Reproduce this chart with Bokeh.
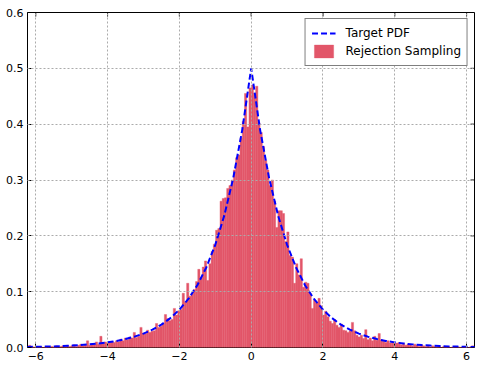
import numpy as np
from bokeh.plotting import figure
from bokeh.models import Range1d, FixedTicker, Legend, LegendItem, ColumnDataSource
from bokeh.embed import file_html
from bokeh.resources import INLINE

# ---- data ----
bin_start = -6.2
bin_width = 0.062
# histogram density heights, ascending x (200 bins from -6.2 to 6.2)
hist_heights = [
    0.004, 0.002, 0.001, 0.000, 0.001, 0.002, 0.000, 0.001, 0.002, 0.000,
    0.002, 0.001, 0.003, 0.000, 0.002, 0.003, 0.001, 0.004, 0.002, 0.003,
    0.005, 0.002, 0.004, 0.006, 0.003, 0.005, 0.012, 0.004, 0.007, 0.005,
    0.010, 0.006, 0.020, 0.007, 0.010, 0.008, 0.009, 0.011, 0.009, 0.012,
    0.010, 0.015, 0.012, 0.017, 0.014, 0.019, 0.017, 0.027, 0.018, 0.020,
    0.036, 0.026, 0.024, 0.031, 0.027, 0.029, 0.030, 0.043, 0.036, 0.038,
    0.042, 0.059, 0.052, 0.048, 0.050, 0.070, 0.058, 0.066, 0.068, 0.097,
    0.082, 0.115, 0.092, 0.097, 0.104, 0.118, 0.140, 0.125, 0.144, 0.155,
    0.120, 0.150, 0.172, 0.185, 0.210, 0.213, 0.262, 0.267, 0.268, 0.285,
    0.290, 0.300, 0.318, 0.340, 0.345, 0.375, 0.405, 0.455, 0.395, 0.465,
    # right half
    0.470, 0.455, 0.468, 0.402, 0.385, 0.360, 0.335, 0.318, 0.290, 0.300,
    0.262, 0.215, 0.245, 0.245, 0.240, 0.190, 0.207, 0.165, 0.162, 0.115,
    0.150, 0.130, 0.159, 0.108, 0.117, 0.115, 0.097, 0.070, 0.085, 0.080,
    0.088, 0.075, 0.058, 0.065, 0.055, 0.047, 0.043, 0.050, 0.040, 0.036,
    0.042, 0.031, 0.030, 0.027, 0.030, 0.045, 0.030, 0.022, 0.019, 0.022,
    0.016, 0.032, 0.014, 0.017, 0.012, 0.020, 0.013, 0.025, 0.014, 0.011,
    0.009, 0.012, 0.008, 0.010, 0.007, 0.008, 0.009, 0.005, 0.007, 0.004,
    0.006, 0.005, 0.003, 0.006, 0.004, 0.002, 0.005, 0.003, 0.002, 0.004,
    0.001, 0.003, 0.002, 0.001, 0.003, 0.000, 0.002, 0.001, 0.002, 0.000,
    0.001, 0.002, 0.000, 0.001, 0.000, 0.002, 0.001, 0.000, 0.001, 0.003,
]

pdf_x = [-6.25, -6.0, -5.75, -5.5, -5.25, -5.0, -4.75, -4.5, -4.25, -4.0,
         -3.75, -3.5, -3.25, -3.0, -2.75, -2.5, -2.25, -2.0, -1.75, -1.5,
         -1.25, -1.0, -0.75, -0.5, -0.25, 0.0, 0.25, 0.5, 0.75, 1.0,
         1.25, 1.5, 1.75, 2.0, 2.25, 2.5, 2.75, 3.0, 3.25, 3.5,
         3.75, 4.0, 4.25, 4.5, 4.75, 5.0, 5.25, 5.5, 5.75, 6.0, 6.25]
pdf_y = [0.0010, 0.0012, 0.0016, 0.0020, 0.0026, 0.0034, 0.0043, 0.0056, 0.0071, 0.0092,
         0.0118, 0.0151, 0.0194, 0.0249, 0.0320, 0.0410, 0.0527, 0.0677, 0.0869, 0.1116,
         0.1433, 0.1839, 0.2362, 0.3033, 0.3894, 0.5000, 0.3894, 0.3033, 0.2362, 0.1839,
         0.1433, 0.1116, 0.0869, 0.0677, 0.0527, 0.0410, 0.0320, 0.0249, 0.0194, 0.0151,
         0.0118, 0.0092, 0.0071, 0.0056, 0.0043, 0.0034, 0.0026, 0.0020, 0.0016, 0.0012, 0.0010]

x_ticks = [-6, -4, -2, 0, 2, 4, 6]
x_tick_labels = ["\u22126", "\u22124", "\u22122", "0", "2", "4", "6"]
y_ticks = [0.0, 0.1, 0.2, 0.3, 0.4, 0.5, 0.6]
y_tick_labels = ["0.0", "0.1", "0.2", "0.3", "0.4", "0.5", "0.6"]

X_MIN, X_MAX = -6.23, 6.22
Y_MIN, Y_MAX = 0.0, 0.6

# ---- figure ----
FONT = "DejaVu Sans"
BAR = "#E25669"

edges = bin_start + bin_width * np.arange(len(hist_heights) + 1)
src = ColumnDataSource(dict(left=edges[:-1], right=edges[1:], top=hist_heights,
                            bottom=[0.0] * len(hist_heights)))

p = figure(width=480, height=368, output_backend="svg", toolbar_location=None,
           x_range=Range1d(X_MIN, X_MAX), y_range=Range1d(Y_MIN, Y_MAX),
           min_border_left=27, min_border_right=6, min_border_top=12, min_border_bottom=21)
p.background_fill_color = "white"
p.border_fill_color = "white"
p.outline_line_color = "black"
p.outline_line_width = 1

bars = p.quad(left="left", right="right", top="top", bottom="bottom", source=src,
              fill_color=BAR, line_color=BAR, line_width=0.4)
pdf = p.line(pdf_x, pdf_y, line_color="#0000FF", line_width=2, line_dash="6 3")

for ax, ticks, labels in ((p.xaxis[0], x_ticks, x_tick_labels), (p.yaxis[0], y_ticks, y_tick_labels)):
    ax.ticker = FixedTicker(ticks=ticks)
    ax.major_label_overrides = {t: l for t, l in zip(ticks, labels)}
    ax.major_label_text_font = FONT
    ax.major_label_text_font_size = "11px"
    ax.major_label_text_color = "black"
    ax.major_tick_in = 4
    ax.major_tick_out = 0
    ax.minor_tick_line_color = None
    ax.axis_line_color = None
    ax.major_tick_line_color = "black"
    ax.major_label_standoff = 4

# inward tick marks on the top and right edges (matplotlib classic style)
p.ray(x=x_ticks, y=[Y_MAX] * len(x_ticks), length=4, length_units="screen",
      angle=-np.pi / 2, line_color="black", line_width=1)
p.ray(x=[X_MAX] * len(y_ticks), y=y_ticks, length=4, length_units="screen",
      angle=np.pi, line_color="black", line_width=1)

p.xgrid.ticker = FixedTicker(ticks=x_ticks)
p.ygrid.ticker = FixedTicker(ticks=y_ticks)
for g in (p.xgrid[0], p.ygrid[0]):
    g.grid_line_color = "#ababab"
    g.grid_line_dash = "2 2"
    g.grid_line_width = 1
    g.level = "guide"

legend = Legend(items=[LegendItem(label="Target PDF", renderers=[pdf]),
                       LegendItem(label="Rejection Sampling", renderers=[bars])],
                location="top_right")
legend.margin = 6
legend.padding = 6
legend.spacing = 2
legend.glyph_width = 24
legend.glyph_height = 16
legend.label_height = 16
legend.label_text_font = FONT
legend.label_text_font_size = "12px"
legend.label_text_color = "black"
legend.label_standoff = 10
legend.border_line_color = "black"
legend.border_line_width = 1
legend.background_fill_alpha = 1.0
p.add_layout(legend)

open("out.html", "w").write(file_html(p, INLINE))
